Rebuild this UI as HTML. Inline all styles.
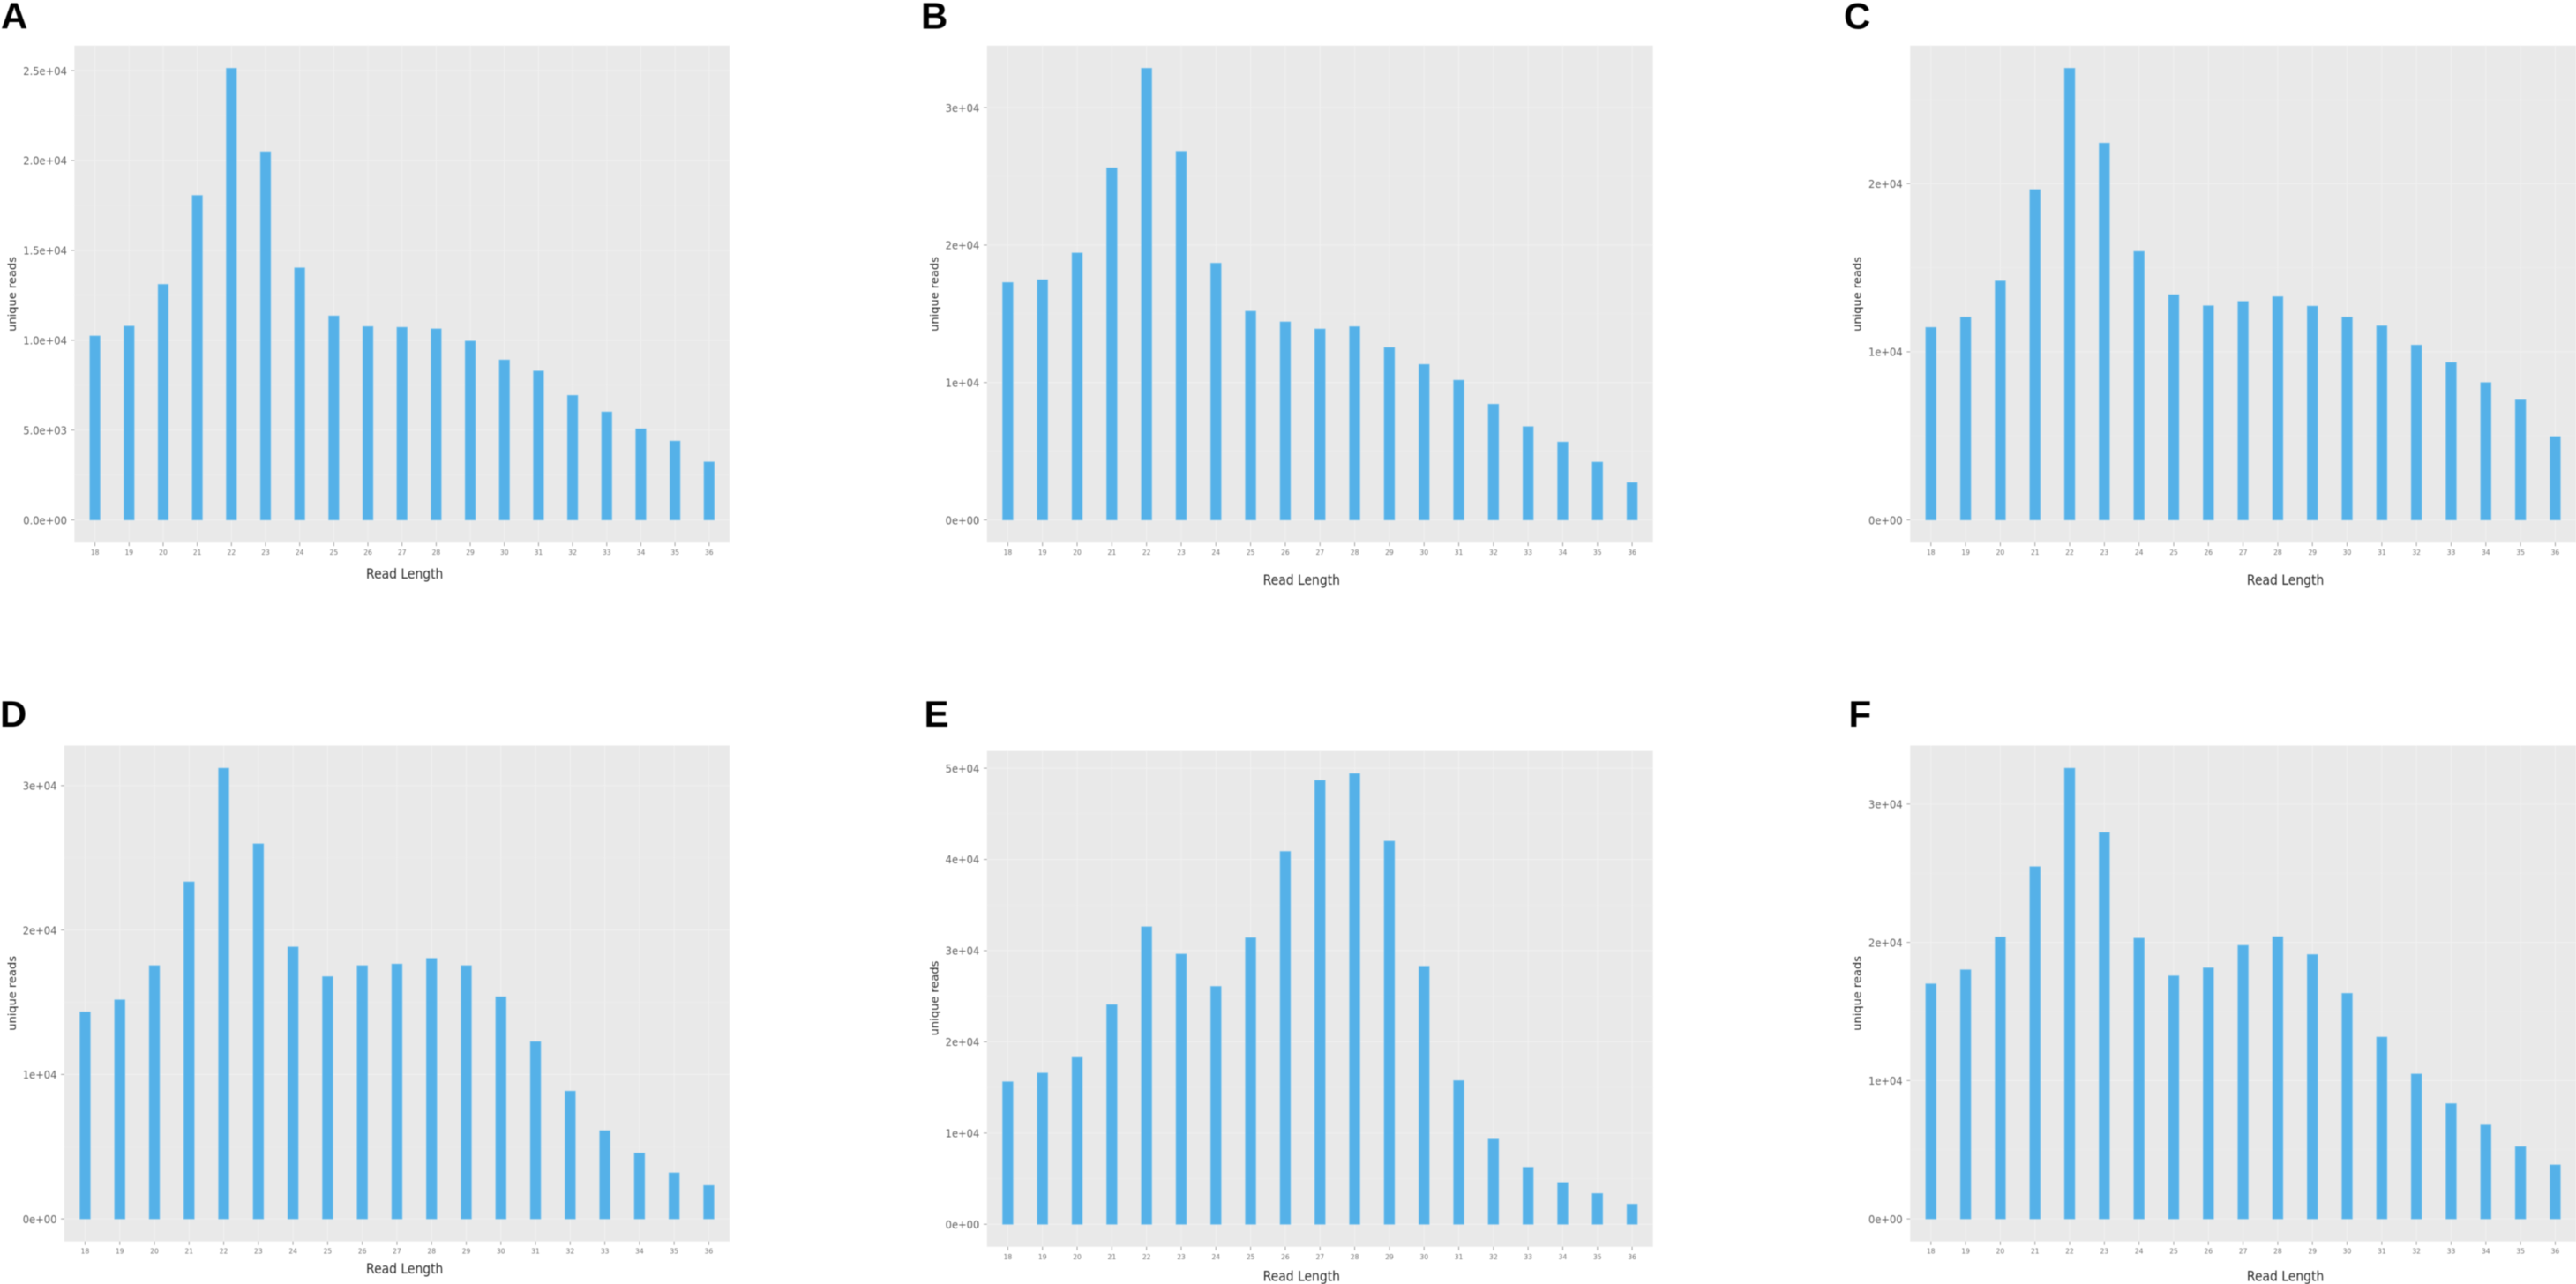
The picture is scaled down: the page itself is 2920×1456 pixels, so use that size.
<!DOCTYPE html>
<html lang="en">
<head>
<meta charset="utf-8">
<title>Read length distribution panels</title>
<style>
  html, body { margin: 0; padding: 0; background: #ffffff; }
  body { width: 2920px; height: 1456px; overflow: hidden; }
  svg { display: block; filter: blur(0.45px); }
  text { font-family: "DejaVu Sans", "Liberation Sans", sans-serif; }
  .panel-letter { font-family: "Liberation Sans", sans-serif; font-weight: 700; font-size: 42px; fill: #000; }
</style>
</head>
<body>
<svg id="figure" xmlns="http://www.w3.org/2000/svg" width="2920" height="1456" viewBox="0 0 2920 1456"></svg>
<script>
const categories = [18,19,20,21,22,23,24,25,26,27,28,29,30,31,32,33,34,35,36];

const valuesA = [10238,10786,13107,18057,25131,20488,14027,11355,10764,10720,10633,9954,8903,8289,6931,6012,5070,4391,3230];
const valuesB = [17278,17479,19427,25616,32865,26819,18682,15186,14413,13897,14069,12550,11318,10172,8424,6791,5673,4212,2722];
const valuesC = [11452,12061,14215,19649,26862,22412,15972,13396,12740,12998,13279,12717,12061,11546,10398,9368,8173,7143,4965];
const valuesD = [14327,15170,17540,23334,31208,25968,18830,16776,17540,17645,18040,17540,15380,12272,8849,6110,4556,3187,2318];
const valuesE = [15625,16583,18292,24083,32625,29625,26083,31417,40875,48667,49417,42000,28292,15750,9333,6250,4583,3375,2208];
const valuesF = [17001,18019,20385,25474,32599,27950,20302,17579,18157,19780,20412,19119,16313,13150,10481,8336,6795,5227,3906];

const ticksA = [0,5000,10000,15000,20000,25000];
const ticksB = [0,10000,20000,30000];
const ticksC = [0,10000,20000];
const ticksD = [0,10000,20000,30000];
const ticksE = [0,10000,20000,30000,40000,50000];
const ticksF = [0,10000,20000,30000];

const tickLabelsA = ["0.0e+00","5.0e+03","1.0e+04","1.5e+04","2.0e+04","2.5e+04"];
const tickLabelsB = ["0e+00","1e+04","2e+04","3e+04"];
const tickLabelsC = ["0e+00","1e+04","2e+04"];
const tickLabelsD = ["0e+00","1e+04","2e+04","3e+04"];
const tickLabelsE = ["0e+00","1e+04","2e+04","3e+04","4e+04","5e+04"];
const tickLabelsF = ["0e+00","1e+04","2e+04","3e+04"];

const domainTopA = 25131;
const domainTopB = 32865;
const domainTopC = 26862;
const domainTopD = 31208;
const domainTopE = 49417;
const domainTopF = 32599;

const xTitle = "Read Length";
const yTitle = "unique reads";

const panels = [
  { id:'a', letter:'A', vals:valuesA, ticks:ticksA, labels:tickLabelsA, top_:domainTopA,
    l:84.4, r:827, t:51.8, b:615.2, lx:1, ly:32.6, tx:458.7, ty:656, ax:17.8, ay:333.5 },
  { id:'b', letter:'B', vals:valuesB, ticks:ticksB, labels:tickLabelsB, top_:domainTopB,
    l:1118.8, r:1873.7, t:51.8, b:615.2, lx:1044, ly:32.6, tx:1475.3, ty:663, ax:1063.7, ay:333.5 },
  { id:'c', letter:'C', vals:valuesC, ticks:ticksC, labels:tickLabelsC, top_:domainTopC,
    l:2165.2, r:2920, t:51.8, b:615.2, lx:2090, ly:32.6, tx:2590.6, ty:663, ax:2109.5, ay:333.5 },
  { id:'d', letter:'D', vals:valuesD, ticks:ticksD, labels:tickLabelsD, top_:domainTopD,
    l:72.9, r:827, t:845.5, b:1407.7, lx:0, ly:824, tx:458.7, ty:1444, ax:17.8, ay:1126.4 },
  { id:'e', letter:'E', vals:valuesE, ticks:ticksE, labels:tickLabelsE, top_:domainTopE,
    l:1118.8, r:1873.7, t:851.6, b:1413.8, lx:1047.5, ly:824, tx:1475.3, ty:1452.6, ax:1063.7, ay:1132 },
  { id:'f', letter:'F', vals:valuesF, ticks:ticksF, labels:tickLabelsF, top_:domainTopF,
    l:2165.2, r:2920, t:845.5, b:1407.7, lx:2095.5, ly:824, tx:2590.6, ty:1452.6, ax:2109.5, ay:1126.4 }
];

const NS = 'http://www.w3.org/2000/svg';
const figure = document.getElementById('figure');

function make(tag, parent, attrs) {
  const node = document.createElementNS(NS, tag);
  for (const k in attrs) node.setAttribute(k, attrs[k]);
  parent.appendChild(node);
  return node;
}

function makeXScale(p) {
  const step = (p.r - p.l) / (categories.length - 1 + 1.2);
  const fn = i => p.l + (i + 0.6) * step;
  fn.step = step;
  return fn;
}

function makeYScale(p) {
  const lo = -0.05 * p.top_, hi = 1.05 * p.top_;
  return v => p.b - (v - lo) / (hi - lo) * (p.b - p.t);
}

panels.forEach(function (p) {
  const x = makeXScale(p);
  const y = makeYScale(p);

  const g = make('g', figure, {});
  
  

  const letter = make('text', g, { x: p.lx, y: p.ly, class: 'panel-letter' });
  
  
  letter.textContent = p.letter;

  const bg = make('rect', g, { x: p.l, y: p.t, width: p.r - p.l, height: p.b - p.t, fill: '#e9e9e9' });
  
  

  // minor horizontal grid lines sit halfway between major ticks
  const gap = p.ticks[1] - p.ticks[0];
  const minorStart = p.ticks[0] - gap / 2;
  for (let m = 0; m <= p.ticks.length; m++) {
    const val = minorStart + m * gap;
    const my = y(val);
    if (my <= p.t || my >= p.b) continue;
    const minor = make('line', g, { x1: p.l, x2: p.r, y1: my, y2: my, stroke: '#ededed', 'stroke-width': 0.8 });
    
    
  }

  p.ticks.forEach(function (val, i) {
    const ty = y(val);
    const grid = make('line', g, { x1: p.l, x2: p.r, y1: ty, y2: ty, stroke: '#f2f2f2', 'stroke-width': 0.9 });
    
    

    const tick = make('line', g, { x1: p.l - 3.8, x2: p.l, y1: ty, y2: ty, stroke: '#8a8a8a', 'stroke-width': 0.8 });
    
    

    const label = make('text', g, {
      transform: 'translate(' + (p.l - 8.5) + ',' + (ty + 4.7) + ') scale(0.9,1)',
      'text-anchor': 'end', 'font-size': 12.8, fill: '#606060'
    });
    
    
    label.textContent = p.labels[i];
  });

  categories.forEach(function (cat, i) {
    const cx = x(i);
    const grid = make('line', g, { x1: cx, x2: cx, y1: p.t, y2: p.b, stroke: '#f1f1f1', 'stroke-width': 1 });
    
    
  });

  categories.forEach(function (cat, i) {
    const cx = x(i);
    const w = x.step * 0.3;
    const yTop = y(p.vals[i]);
    const yBase = y(0);
    const bar = make('rect', g, {
      x: cx - w / 2, y: yTop, width: w, height: yBase - yTop,
      fill: '#55b1e8', stroke: '#74c0ec', 'stroke-width': 0.7
    });
    
    

    const tick = make('line', g, { x1: cx, x2: cx, y1: p.b, y2: p.b + 4, stroke: '#8a8a8a', 'stroke-width': 0.8 });
    
    

    const label = make('text', g, {
      transform: 'translate(' + cx + ',' + (p.b + 14) + ') scale(0.92,1)',
      'text-anchor': 'middle', 'font-size': 8.2, fill: '#707070'
    });
    
    
    label.textContent = cat;
  });

  const xt = make('text', g, {
    transform: 'translate(' + p.tx + ',' + p.ty + ') scale(0.87,1)',
    'text-anchor': 'middle', 'font-size': 16, fill: '#2a2a2a'
  });
  
  
  xt.textContent = xTitle;

  const yt = make('text', g, {
    transform: 'translate(' + p.ax + ',' + p.ay + ') rotate(-90) scale(1.04,1)',
    'text-anchor': 'middle', 'font-size': 12.5, fill: '#2a2a2a'
  });
  
  
  yt.textContent = yTitle;
});
</script>
</body>
</html>
